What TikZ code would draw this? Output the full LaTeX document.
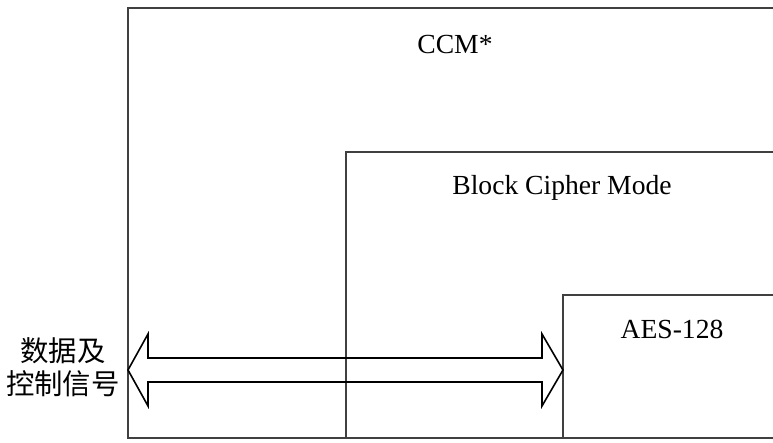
\documentclass[tikz,border=0pt]{standalone}
\usepackage{fontspec}
\setmainfont{Liberation Serif}
\newfontfamily\cjk{Noto Sans CJK SC}
\usetikzlibrary{calc}

\begin{document}
\begin{tikzpicture}[x=0.5pt,y=-0.5pt,
    frame/.style={draw=black!75, line width=1pt},
    label/.style={font=\fontsize{13.8}{16}\selectfont, inner sep=0pt},
    bigarrow/.style={draw=black, line width=0.8pt, line join=miter}]
    \useasboundingbox (0,0) rectangle (773,443);

    % Define the corners of the nested blocks
    \coordinate (ccm) at (128,8);
    \coordinate (bcm) at (346,152);
    \coordinate (aes) at (563,295);
    \coordinate (floor) at (0,438);
    \coordinate (edge) at (773,0);

    % Draw the nested blocks (they run off the right side)
    \draw[frame] (ccm -| edge) -- (ccm) -- (ccm |- floor) -- (edge |- floor);
    \draw[frame] (bcm -| edge) -- (bcm) -- (bcm |- floor);
    \draw[frame] (aes -| edge) -- (aes) -- (aes |- floor);

    % Draw the double arrow between the outer and inner block
    \coordinate (L) at ($(ccm |- 0,370)$);
    \coordinate (R) at ($(aes |- 0,370)$);
    \draw[bigarrow] (L) -- ($(L)+(20,-36)$) -- ($(L)+(20,-12)$)
        -- ($(R)+(-21,-12)$) -- ($(R)+(-21,-36)$) -- (R)
        -- ($(R)+(-21,36)$) -- ($(R)+(-21,12)$)
        -- ($(L)+(20,12)$) -- ($(L)+(20,36)$) -- cycle;

    % Place the labels
    \node[label] (ccmlabel) at (455,45) {CCM*};
    \node[label] (bcmlabel) at (562,188) {Block Cipher Mode};
    \node[label] (aeslabel) at (672,329) {AES-128};
    \node[font=\cjk\fontsize{14.2}{16.5}\selectfont, align=center, inner sep=0pt] (signal) at (63,367) {数据及\\控制信号};

\end{tikzpicture}
\end{document}
